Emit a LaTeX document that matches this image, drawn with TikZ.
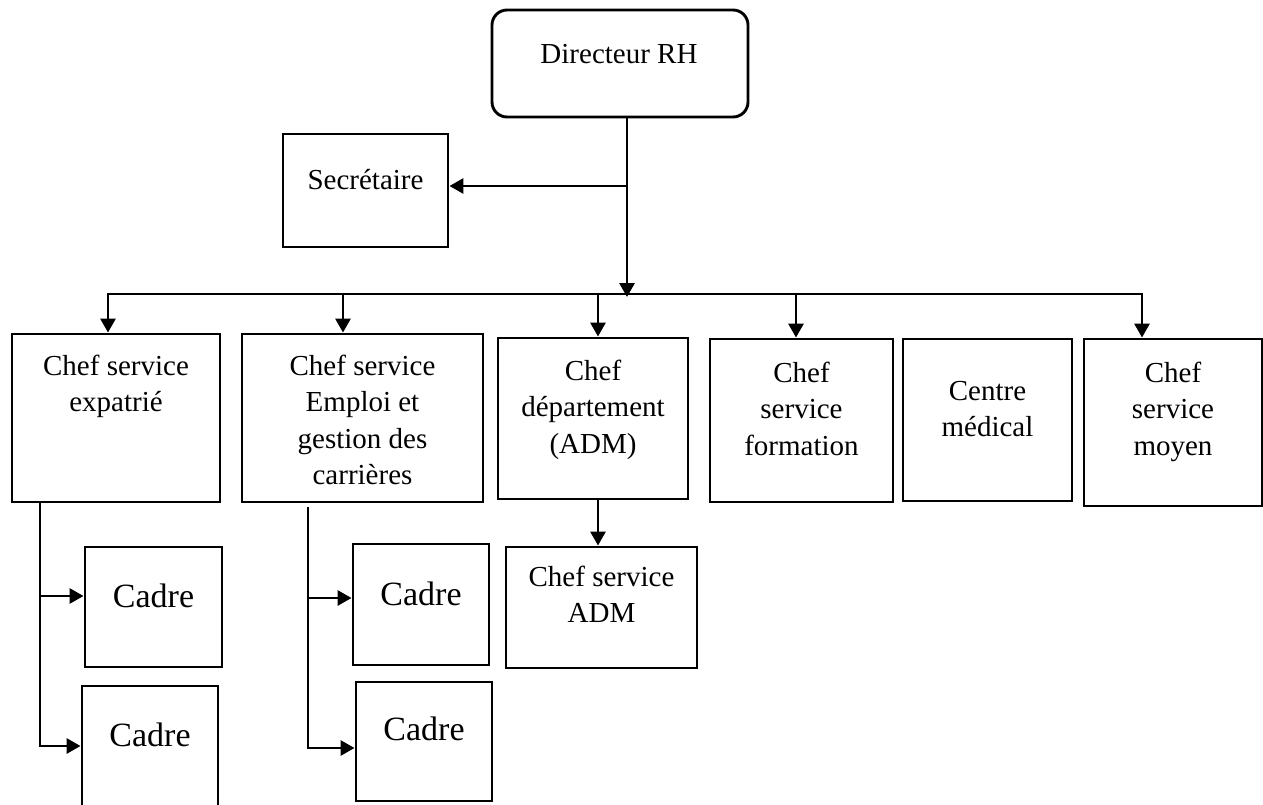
\documentclass[tikz,border=0pt]{standalone}
\usepackage{fontspec}
\setmainfont{Liberation Serif}
\usetikzlibrary{arrows.meta,fit}
\begin{document}
\begin{tikzpicture}[x=0.5pt,y=-0.5pt,
  box/.style={draw, line width=1.45pt, inner sep=0pt},
  rbox/.style={box, rounded corners=7.5pt},
  txt/.style={anchor=north, inner sep=0pt, align=center, yshift=12.775pt,
    font=\fontsize{14.5}{18.25}\selectfont},
  bigtxt/.style={anchor=north, inner sep=0pt, align=center, yshift=14pt,
    font=\fontsize{17}{20}\selectfont},
  link/.style={line width=1.45pt},
  arr/.style={link, -{Triangle[length=7pt,width=7.5pt]}},
  dbl/.style={link, {Triangle[length=7pt,width=7.5pt]}-{Triangle[length=7pt,width=7.5pt]}}]
\clip (0,0) rectangle (1263,804);

% boxes
\node[rbox, fit={(492,10) (748,117)}] (dir) {};
\node[box, fit={(283,134) (448,247)}] (sec) {};
\node[box, fit={(12,334) (220,502)}] (exp) {};
\node[box, fit={(242,334) (483,502)}] (emp) {};
\node[box, fit={(498,338) (688,499)}] (dep) {};
\node[box, fit={(710,339) (893,502)}] (for) {};
\node[box, fit={(903,339) (1072,501)}] (med) {};
\node[box, fit={(1084,339) (1262,506)}] (moy) {};
\node[box, fit={(506,547) (697,668)}] (adm) {};
\node[box, fit={(85,547) (222,667)}] (c1) {};
\node[box, fit={(82,686) (218,815)}] (c2) {};
\node[box, fit={(353,544) (489,665)}] (c3) {};
\node[box, fit={(356,682) (492,801)}] (c4) {};

% labels
\node[txt] (dir-t) at (619,63) {\strut Directeur RH};
\node[txt] (sec-t) at (365.5,189) {\strut Secrétaire};
\node[txt] (exp-t) at (116,375) {\strut Chef service\\expatrié};
\node[txt] (emp-t) at (362.5,375) {\strut Chef service\\Emploi et\\gestion des\\carrières};
\node[txt] (dep-t) at (593,380) {\strut Chef\\département\\(ADM)};
\node[txt] (for-t) at (801.5,382) {\strut Chef\\service\\formation};
\node[txt] (med-t) at (987.5,400) {\strut Centre\\médical};
\node[txt] (moy-t) at (1173,382) {\strut Chef\\service\\moyen};
\node[txt] (adm-t) at (601.5,586) {\strut Chef service\\ADM};
\node[bigtxt] (c1-t) at (153.5,607) {\strut Cadre};
\node[bigtxt] (c2-t) at (150,746) {\strut Cadre};
\node[bigtxt] (c3-t) at (421,605) {\strut Cadre};
\node[bigtxt] (c4-t) at (424,740) {\strut Cadre};

% junction points
\coordinate (hub) at (627,294);
\coordinate (sj) at (627,186);
\coordinate (b1) at (108,294);
\coordinate (b2) at (343,294);
\coordinate (b3) at (598,294);
\coordinate (b4) at (796,294);
\coordinate (b5) at (1142,294);
\coordinate (e1) at (40,596);
\coordinate (e2) at (40,746);
\coordinate (f1) at (308,598);
\coordinate (f2) at (308,748);

% connectors
\draw[arr] (dir.south -| hub) -- ([yshift=-1.5pt]hub);
\draw[arr] (sj) -- (sj -| sec.east);
\draw[dbl] (b1 |- exp.north) -- (b1) -- (b5) -- (b5 |- moy.north);
\draw[arr] (b2) -- (b2 |- emp.north);
\draw[arr] (b3) -- (b3 |- dep.north);
\draw[arr] (b4) -- (b4 |- for.north);
\draw[arr] (dep.south -| b3) -- (adm.north -| b3);

\draw[arr] (exp.south -| e1) -- (e2) -- (e2 -| c2.west);
\draw[arr] (e1) -- (e1 -| c1.west);
\draw[arr] ([yshift=-2pt]emp.south -| f1) -- (f2) -- (f2 -| c4.west);
\draw[arr] (f1) -- (f1 -| c3.west);
\end{tikzpicture}
\end{document}
